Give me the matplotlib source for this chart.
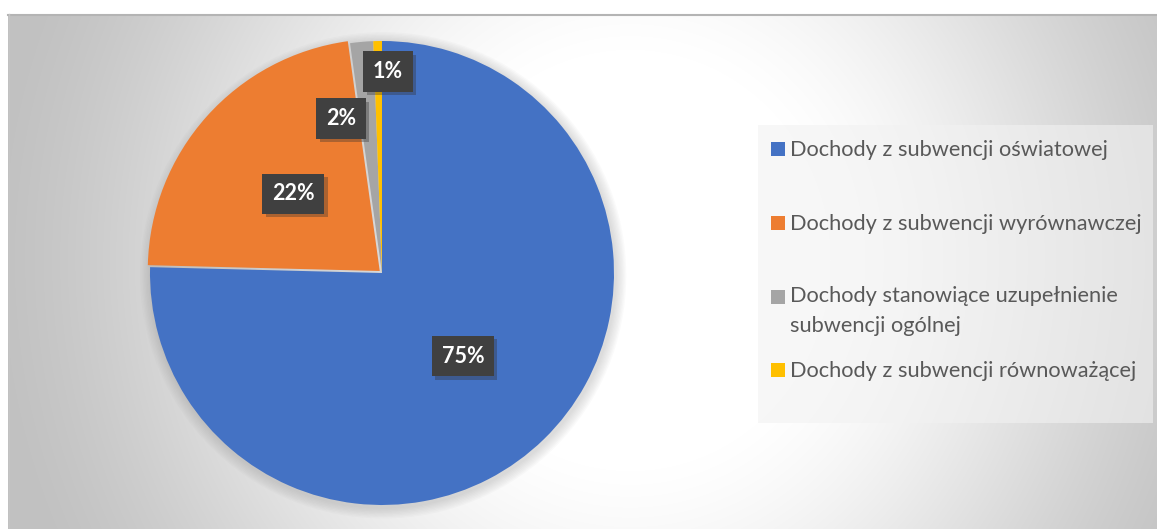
import matplotlib
matplotlib.use("Agg")
import matplotlib.pyplot as plt
import matplotlib.patheffects as pe
from matplotlib.patches import Rectangle, Circle
import numpy as np

# data
categories = [
    "Dochody z subwencji oświatowej",
    "Dochody z subwencji wyrównawczej",
    "Dochody stanowiące uzupełnienie\nsubwencji ogólnej",
    "Dochody z subwencji równoważącej",
]
shares = [75.4, 22.4, 1.6, 0.6]
colors = ["#4472C4", "#ED7D31", "#A5A5A5", "#FFC000"]

W, H = 1157, 529
fig = plt.figure(figsize=(W / 100, H / 100), dpi=100)
fig.patch.set_facecolor("white")

# chart area with radial grey gradient
bg = fig.add_axes([8 / W, 0, 1 - 8 / W, (H - 14) / H], zorder=0)
xx, yy = np.meshgrid(np.arange(8, W), np.arange(14, H))
r = np.hypot(xx - 630, (yy - 260) * 0.95)
t = np.clip((r - 200) / 440, 0, 1)
t = t * t * (3 - 2 * t) * 0.5 + t * 0.5
g = (255 - 62 * t) / 255
bg.imshow(np.dstack([g, g, g]), aspect="auto", interpolation="bilinear")
bg.set_axis_off()
fig.add_artist(plt.Line2D([8 / W, 1], [1 - 14.5 / H, 1 - 14.5 / H], color="#b4b4b4", lw=1.5))
fig.add_artist(plt.Line2D([8.5 / W, 8.5 / W], [0, 1 - 14 / H], color="#c4c4c4", lw=1))

# pie
cx, cy, R = 382, 273, 232
ax = fig.add_axes([(cx - R * 1.1) / W, (H - cy - R * 1.1) / H, 2.2 * R / W, 2.2 * R / H], zorder=2)
ax.set_aspect("equal")
ax.set_axis_off()

# soft shadow around the pie
for k in range(8):
    ax.add_patch(Circle((0.005, -0.01), 1.0 + 0.006 * (k + 1), color="#808080",
                        alpha=0.035, lw=0, zorder=0))

wedges, texts, autotexts = ax.pie(
    shares, colors=colors, startangle=90, counterclock=False,
    explode=[0, 0.013, 0, 0], autopct="%.0f%%", pctdistance=0.5,
    wedgeprops=dict(linewidth=0), frame=False,
)
ax.set_xlim(-1.1, 1.1)
ax.set_ylim(-1.1, 1.1)

# small slices get their labels moved outward like in the original
autotexts[2].set_position((-0.177, 0.666))
autotexts[3].set_position((0.026, 0.868))

for at in autotexts:
    at.set_color("white")
    at.set_fontsize(15.5)
    at.set_fontweight("bold")
    at.set_fontfamily("Lato")
    at.set_bbox(dict(boxstyle="square,pad=0.45", facecolor="#404040", linewidth=0))
    at.get_bbox_patch().set_path_effects(
        [pe.SimplePatchShadow(offset=(2.5, -2.5), shadow_rgbFace="#303030", alpha=0.35),
         pe.Normal()])
    at.set_zorder(5)

# legend box
leg = fig.add_axes([0, 0, 1, 1], zorder=3)
leg.set_xlim(0, W)
leg.set_ylim(H, 0)
leg.set_axis_off()
leg.patch.set_alpha(0)
leg.add_patch(Rectangle((758, 125), 1153 - 758, 423 - 125, facecolor="#f2f2f2",
                        alpha=0.6, lw=0))
rows = [149, 223, 297, 370]
for lab, col, y in zip(categories, colors, rows):
    leg.add_patch(Rectangle((771, y - 7), 14, 14, facecolor=col, lw=0))
    nlines = lab.count("\n")
    leg.text(790, y + 7 + 28 * nlines, lab, color="#595959", fontsize=15.7,
             family="Lato", va="baseline", ha="left", linespacing=1.6)

fig.savefig("out.png", dpi=100)
